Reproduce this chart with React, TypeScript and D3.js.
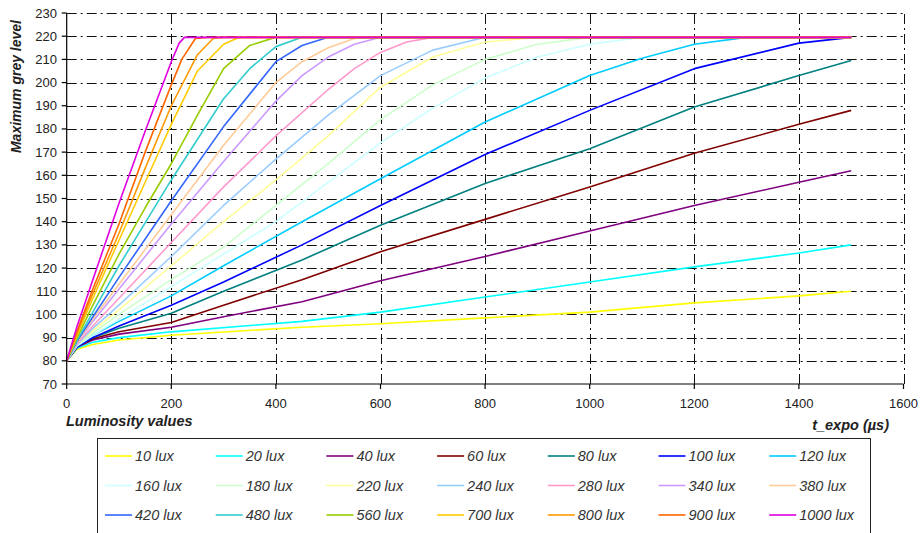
import React, { useRef, useEffect } from 'react';
import * as d3 from 'd3';

// [exposure time (µs), max grey level]
const lux10 = [[0, 80], [20, 85], [50, 87], [100, 89], [200, 91], [450, 94.5], [600, 96], [800, 98.5], [1000, 101], [1200, 105], [1400, 108], [1500, 110]];
const lux20 = [[0, 80], [20, 85.5], [50, 88], [100, 90], [200, 92.5], [450, 97], [600, 101], [800, 107.5], [1000, 114], [1200, 120.5], [1400, 126.5], [1500, 130]];
const lux40 = [[0, 80], [20, 86], [50, 89], [100, 91.5], [200, 94.5], [300, 99], [450, 105.5], [600, 114.5], [800, 125], [1000, 136], [1200, 147], [1400, 157], [1500, 162]];
const lux60 = [[0, 80], [20, 86], [50, 89.5], [100, 92.5], [200, 96.5], [300, 104], [450, 115], [600, 127], [800, 141], [1000, 155], [1200, 169.5], [1400, 182], [1500, 188]];
const lux80 = [[0, 80], [20, 86], [50, 90], [100, 94], [200, 100.5], [300, 110], [450, 123.5], [600, 138.5], [800, 156.5], [1000, 171.5], [1200, 189.5], [1400, 203], [1500, 209.5]];
const lux100 = [[0, 80], [20, 86], [50, 90], [100, 95], [200, 104], [300, 114], [450, 130], [600, 147], [800, 169], [1000, 188], [1200, 206], [1400, 217], [1500, 219.5]];
const lux120 = [[0, 80], [20, 86.5], [50, 91], [100, 97], [200, 108], [300, 121], [450, 140], [600, 158.5], [800, 183], [1000, 203], [1100, 210.5], [1200, 216.5], [1300, 219.5], [1500, 219.5]];
const lux160 = [[0, 80], [20, 86.5], [50, 91], [100, 98], [200, 112], [300, 126], [400, 140], [500, 157], [600, 174], [700, 189], [800, 202], [900, 211], [1000, 216.5], [1100, 219.5], [1500, 219.5]];
const lux180 = [[0, 80], [20, 87], [50, 92], [100, 100], [200, 115], [300, 129], [400, 147], [500, 165], [600, 184], [700, 199], [800, 210], [900, 216.5], [1000, 219.5], [1500, 219.5]];
const lux220 = [[0, 80], [20, 87], [50, 93], [100, 102], [200, 121], [300, 140], [400, 158], [500, 177], [600, 198], [700, 211], [800, 217.5], [900, 219.5], [1500, 219.5]];
const lux240 = [[0, 80], [20, 87], [50, 94], [100, 104], [200, 125], [300, 147], [400, 167], [500, 186], [600, 203], [700, 214], [800, 219.5], [1500, 219.5]];
const lux280 = [[0, 80], [20, 87.5], [50, 95], [100, 107], [200, 131], [300, 155], [400, 177], [500, 197], [550, 206], [600, 213], [650, 217.5], [700, 219.5], [1500, 219.5]];
const lux340 = [[0, 80], [20, 88], [50, 97], [100, 111], [200, 139], [300, 166], [400, 192], [450, 203], [500, 211], [550, 216.5], [600, 219.5], [1500, 219.5]];
const lux380 = [[0, 80], [20, 88], [50, 98], [100, 113], [200, 143], [300, 173], [400, 200], [450, 209], [500, 215], [550, 219], [600, 219.5], [1500, 219.5]];
const lux420 = [[0, 80], [20, 88.5], [50, 99], [100, 116], [200, 149], [300, 181], [400, 209], [450, 216], [500, 219.5], [1500, 219.5]];
const lux480 = [[0, 80], [20, 89], [50, 101], [100, 121], [200, 158], [300, 193], [350, 206], [400, 215.5], [450, 219.5], [1500, 219.5]];
const lux560 = [[0, 80], [20, 90], [50, 104], [100, 126], [150, 146], [200, 165], [250, 186], [300, 206], [350, 216], [400, 219.5], [1500, 219.5]];
const lux700 = [[0, 80], [20, 91], [50, 107], [100, 132], [150, 157], [200, 182], [250, 205], [300, 216.5], [330, 219.5], [1500, 219.5]];
const lux800 = [[0, 80], [20, 92], [50, 109], [100, 135], [150, 163], [200, 190], [250, 212], [280, 219], [300, 219.5], [1500, 219.5]];
const lux900 = [[0, 80], [20, 93], [50, 111], [100, 139], [150, 170], [200, 199], [220, 210], [246, 219], [270, 219.5], [1500, 219.5]];
const lux1000 = [[0, 80], [20, 95], [50, 115], [100, 148], [150, 179], [200, 209], [215, 217], [225, 219.5], [1500, 219.5]];

const seriesData = [lux10, lux20, lux40, lux60, lux80, lux100, lux120, lux160, lux180, lux220, lux240, lux280, lux340, lux380, lux420, lux480, lux560, lux700, lux800, lux900, lux1000];
const luxLabels = ['10 lux', '20 lux', '40 lux', '60 lux', '80 lux', '100 lux', '120 lux', '160 lux', '180 lux', '220 lux', '240 lux', '280 lux', '340 lux', '380 lux', '420 lux', '480 lux', '560 lux', '700 lux', '800 lux', '900 lux', '1000 lux'];
const palette = ['#FFFF00', '#00FFFF', '#800080', '#800000', '#008080', '#0000FF', '#00CCFF', '#CCFFFF', '#CCFFCC', '#FFFF99', '#99CCFF', '#FF99CC', '#CC99FF', '#FFCC99', '#3366FF', '#33CCCC', '#99CC00', '#FFCC00', '#FF9900', '#FF6600', '#E000E0'];

const xTicks = [0, 200, 400, 600, 800, 1000, 1200, 1400, 1600];
const yTicks = [70, 80, 90, 100, 110, 120, 130, 140, 150, 160, 170, 180, 190, 200, 210, 220, 230];

const FONT = 'Arial, "Liberation Sans", sans-serif';

const Chart = ({ width = 921, height = 533 }) => {
  const ref = useRef<SVGSVGElement>(null);

  useEffect(() => {
    const svg = d3.select(ref.current);
    svg.selectAll('*').remove();

    const x = d3.scaleLinear().domain([0, 1600]).range([66.7, 903.5]);
    const y = d3.scaleLinear().domain([70, 230]).range([384, 13]);

    svg.append('rect').attr('width', width).attr('height', height).attr('fill', '#fff');

    // dash-dot grid
    const grid = svg.append('g').attr('stroke', '#111').attr('stroke-width', 1).attr('stroke-dasharray', '10,4,2,4');
    grid.selectAll('line.h')
      .data(yTicks.filter(d => d > 70))
      .join('line')
      .attr('x1', x(0)).attr('x2', x(1600))
      .attr('y1', d => Math.round(y(d)) + 0.5).attr('y2', d => Math.round(y(d)) + 0.5);
    grid.selectAll('line.v')
      .data(xTicks.filter(d => d > 0))
      .join('line')
      .attr('y1', y(70)).attr('y2', y(230))
      .attr('x1', d => Math.round(x(d)) + 0.5).attr('x2', d => Math.round(x(d)) + 0.5);

    // series, later ones on top
    const line = d3.line<number[]>().x(d => x(d[0])).y(d => y(d[1]));
    svg.append('g')
      .selectAll('path')
      .data(seriesData)
      .join('path')
      .attr('d', d => line(d))
      .attr('fill', 'none')
      .attr('stroke', (_, i) => palette[i])
      .attr('stroke-width', 1.6)
      .attr('stroke-linejoin', 'round');

    // axes
    const axes = svg.append('g').attr('stroke', '#000').attr('stroke-width', 1.2);
    axes.append('line').attr('x1', x(0)).attr('x2', x(0)).attr('y1', y(70)).attr('y2', y(230));
    axes.append('line').attr('x1', x(0)).attr('x2', x(1600)).attr('y1', y(70)).attr('y2', y(70));
    axes.selectAll('line.yt').data(yTicks).join('line')
      .attr('x1', x(0) - 5).attr('x2', x(0))
      .attr('y1', d => y(d)).attr('y2', d => y(d));
    axes.selectAll('line.xt').data(xTicks).join('line')
      .attr('x1', d => x(d)).attr('x2', d => x(d))
      .attr('y1', y(70)).attr('y2', y(70) + 5);

    svg.append('g')
      .selectAll('text')
      .data(yTicks)
      .join('text')
      .attr('x', 57)
      .attr('y', d => y(d))
      .attr('dy', '0.35em')
      .attr('text-anchor', 'end')
      .attr('font-family', FONT)
      .attr('font-size', 13)
      .attr('fill', '#222')
      .text(d => d);

    svg.append('g')
      .selectAll('text')
      .data(xTicks)
      .join('text')
      .attr('x', d => x(d))
      .attr('y', 408)
      .attr('text-anchor', 'middle')
      .attr('font-family', FONT)
      .attr('font-size', 13)
      .attr('fill', '#222')
      .text(d => d);

    // axis titles
    svg.append('text')
      .attr('transform', 'translate(21, 20) rotate(-90)')
      .attr('text-anchor', 'end')
      .attr('font-family', FONT)
      .attr('font-size', 14)
      .attr('font-weight', 'bold')
      .attr('font-style', 'italic')
      .attr('fill', '#222')
      .text('Maximum grey level');

    svg.append('text')
      .attr('x', 66)
      .attr('y', 426)
      .attr('font-family', FONT)
      .attr('font-size', 14.5)
      .attr('font-weight', 'bold')
      .attr('font-style', 'italic')
      .attr('fill', '#222')
      .text('Luminosity  values');

    svg.append('text')
      .attr('x', 889)
      .attr('y', 430)
      .attr('text-anchor', 'end')
      .attr('font-family', FONT)
      .attr('font-size', 14.5)
      .attr('font-weight', 'bold')
      .attr('font-style', 'italic')
      .attr('fill', '#222')
      .text('t_expo (µs)');

    // legend
    const legend = svg.append('g');
    legend.append('rect')
      .attr('x', 97.5).attr('y', 438.5)
      .attr('width', 773).attr('height', 110)
      .attr('fill', '#fff')
      .attr('stroke', '#222')
      .attr('stroke-width', 1);

    const item = legend.selectAll('g.item')
      .data(luxLabels)
      .join('g')
      .attr('transform', (_, i) => `translate(${105 + (i % 7) * 110.7}, ${456 + Math.floor(i / 7) * 29.5})`);
    item.append('line')
      .attr('x1', 0).attr('x2', 27)
      .attr('y1', 0).attr('y2', 0)
      .attr('stroke', (_, i) => palette[i])
      .attr('stroke-width', 1.6);
    item.append('text')
      .attr('x', 30)
      .attr('dy', '0.35em')
      .attr('font-family', FONT)
      .attr('font-size', 14.5)
      .attr('font-style', 'italic')
      .attr('fill', '#333')
      .text(d => d);

    return () => {
      d3.select(ref.current).selectAll('*').remove();
    };
  }, [width, height]);

  return <svg ref={ref} width={width} height={height} style={{ position: 'absolute', left: 0, top: 0 }}></svg>;
};

export default function App() {
  return <Chart />;
}
